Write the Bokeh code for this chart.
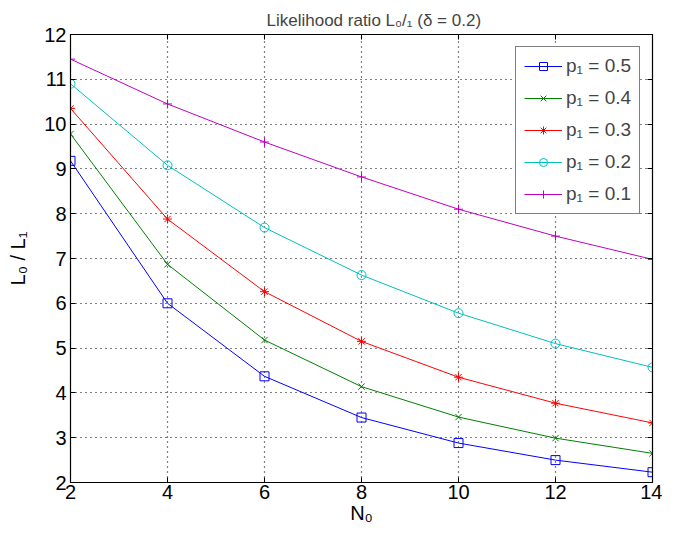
from bokeh.plotting import figure
from bokeh.models import LinearAxis, Legend, LegendItem, Range1d, FixedTicker
from bokeh.embed import file_html
from bokeh.resources import INLINE

N0 = [2, 4, 6, 8, 10, 12, 14]
p05 = [9.18, 6.00, 4.37, 3.45, 2.88, 2.50, 2.23]
p04 = [9.78, 6.87, 5.18, 4.14, 3.46, 2.99, 2.65]
p03 = [10.35, 7.88, 6.26, 5.15, 4.35, 3.77, 3.33]
p02 = [10.90, 9.08, 7.69, 6.63, 5.78, 5.10, 4.57]
p01 = [11.45, 10.45, 9.60, 8.82, 8.10, 7.50, 6.98]
y_ticks = [2, 3, 4, 5, 6, 7, 8, 9, 10, 11, 12]

series = [
    ("p\u2081 = 0.5", p05, "#0000FF", "square"),
    ("p\u2081 = 0.4", p04, "#008000", "x"),
    ("p\u2081 = 0.3", p03, "#FF0000", "asterisk"),
    ("p\u2081 = 0.2", p02, "#00BFBF", "circle"),
    ("p\u2081 = 0.1", p01, "#BF00BF", "cross"),
]

FONT = "Liberation Sans"

p = figure(width=662, height=526, output_backend="svg",
           toolbar_location=None, x_range=Range1d(2, 14), y_range=Range1d(2, 12),
           min_border_left=70, min_border_right=10, min_border_top=34, min_border_bottom=44)

p.title.text = "Likelihood ratio L\u2080/\u2081 (\u03b4 = 0.2)"
p.title.align = "left"
p.title.offset = 196
p.title.text_font = FONT
p.title.text_font_size = "17px"
p.title.text_font_style = "normal"
p.title.standoff = 9

p.outline_line_color = "black"
p.outline_line_width = 1.2
p.background_fill_color = "white"
p.border_fill_color = "white"

xt = FixedTicker(ticks=N0)
yt = FixedTicker(ticks=y_ticks)

for ax in p.xaxis:
    ax.ticker = xt
for ax in p.yaxis:
    ax.ticker = yt

for ax in list(p.xaxis) + list(p.yaxis):
    ax.major_tick_in = 5
    ax.major_tick_out = 0
    ax.minor_tick_line_color = None
    ax.axis_line_color = "black"
    ax.major_tick_line_color = "black"
    ax.major_label_text_font = FONT
    ax.major_label_text_font_size = "20px"
    ax.major_label_text_color = "black"
    ax.axis_label_text_font = FONT
    ax.axis_label_text_font_size = "20px"
    ax.axis_label_text_font_style = "normal"
    ax.axis_label_text_color = "black"

p.xaxis.axis_label = "N\u2080"
p.yaxis.axis_label = "L\u2080 / L\u2081"
p.xaxis.major_label_standoff = 2
p.yaxis.major_label_standoff = 4
p.xaxis.axis_label_standoff = 0
p.yaxis.axis_label_standoff = 12

top = LinearAxis(ticker=xt, major_tick_in=5, major_tick_out=0,
                 major_label_overrides={t: "" for t in N0},
                 minor_tick_line_color=None, axis_line_color="black")
right = LinearAxis(ticker=yt, major_tick_in=5, major_tick_out=0,
                   major_label_overrides={t: "" for t in y_ticks},
                   minor_tick_line_color=None, axis_line_color="black")
p.add_layout(top, "above")
p.add_layout(right, "right")

p.xgrid.ticker = xt
p.ygrid.ticker = yt
p.grid.grid_line_color = "black"
p.grid.grid_line_dash = "1 4"
p.grid.grid_line_width = 1.2

items = []
for label, ys, color, marker in series:
    r1 = p.line(N0, ys, line_color=color, line_width=1)
    r2 = p.scatter(N0, ys, marker=marker, size=9, line_color=color, fill_color=None, line_width=1)
    items.append(LegendItem(label=label, renderers=[r1, r2]))

legend = Legend(items=items, location=(445, 268))
legend.label_text_font = FONT
legend.label_text_font_size = "19px"
legend.border_line_color = "black"
legend.border_line_width = 1.2
legend.background_fill_color = "white"
legend.background_fill_alpha = 1
legend.glyph_width = 38
legend.glyph_height = 20
legend.spacing = 10
legend.padding = 8
legend.margin = 0
legend.label_standoff = 4
p.add_layout(legend, "center")

open("out.html", "w").write(file_html(p, INLINE))
